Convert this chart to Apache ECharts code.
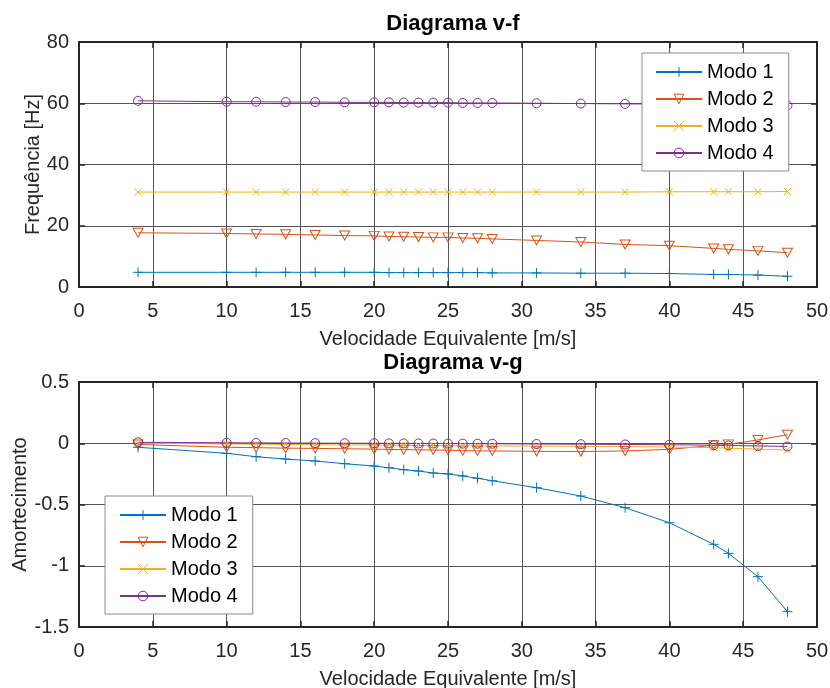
<!DOCTYPE html>
<html>
<head>
<meta charset="utf-8">
<script src="https://cdn.jsdelivr.net/npm/echarts@6/dist/echarts.min.js"></script>
<style>
html,body{margin:0;padding:0;background:#fff;}
#chart{width:830px;height:688px;}
</style>
</head>
<body>
<div id="chart"></div>
<script>
// ---- data ----
const velocidade = [4,10,12,14,16,18,20,21,22,23,24,25,26,27,28,31,34,37,40,43,44,46,48];
const modeNames = ['Modo 1','Modo 2','Modo 3','Modo 4'];
const freq1 = [4.8,4.8,4.8,4.8,4.8,4.8,4.8,4.7,4.7,4.7,4.7,4.7,4.7,4.7,4.6,4.6,4.5,4.5,4.4,4.1,4.1,3.9,3.5];
const freq2 = [17.7,17.5,17.3,17.2,17.0,16.8,16.7,16.5,16.4,16.3,16.2,16.2,16.0,15.9,15.7,15.2,14.7,13.9,13.5,12.6,12.3,11.8,11.2];
const freq3 = [31.0,31.0,31.0,31.0,31.0,31.0,31.0,31.0,31.0,31.0,31.0,31.0,31.0,31.0,31.0,31.0,31.0,31.0,31.1,31.1,31.1,31.1,31.2];
const freq4 = [60.8,60.5,60.5,60.4,60.4,60.3,60.3,60.3,60.2,60.2,60.2,60.2,60.1,60.1,60.1,60.0,59.9,59.8,59.7,59.6,59.5,59.4,59.3];
const damp1 = [-0.033,-0.082,-0.11,-0.129,-0.145,-0.167,-0.186,-0.2,-0.216,-0.227,-0.243,-0.25,-0.267,-0.286,-0.306,-0.363,-0.431,-0.526,-0.649,-0.825,-0.899,-1.089,-1.375];
const damp2 = [-0.01,-0.033,-0.036,-0.04,-0.042,-0.045,-0.048,-0.05,-0.052,-0.054,-0.055,-0.057,-0.06,-0.062,-0.063,-0.066,-0.068,-0.063,-0.05,-0.017,-0.009,0.027,0.07];
const damp3 = [0,-0.005,-0.008,-0.01,-0.012,-0.014,-0.015,-0.016,-0.017,-0.018,-0.019,-0.02,-0.02,-0.021,-0.022,-0.023,-0.025,-0.027,-0.03,-0.036,-0.04,-0.048,-0.055];
const damp4 = [0.008,0.004,0.003,0.002,0.001,0,0,-0.001,-0.001,-0.002,-0.002,-0.003,-0.003,-0.004,-0.004,-0.006,-0.008,-0.01,-0.012,-0.016,-0.018,-0.022,-0.026];
const xTicks = {min:0, max:50, interval:5};
const fTicks = {min:0, max:80, interval:20};
const gTicks = {min:-1.5, max:0.5, interval:0.5};

// ---- style ----
const colors = ['#0072BD','#D95319','#EDB120','#7E2F8E'];
const symbols = [
  'path://M5,0 L5,10 M0,5 L10,5',
  'path://M0,0 L10,0 L5,8.66 Z',
  'path://M0,0 L10,10 M10,0 L0,10',
  'circle'
];
const symSizes = [10,[10,9],7,9];
const FONT = 'Liberation Sans, Arial, sans-serif';
const axisColor = '#262626';
const gridColor = '#555555';

function pairs(ys){ return velocidade.map((v,i)=>[v, ys[i]]); }

function mkSeries(dataArrs, gi){
  return dataArrs.map((arr,k)=>({
    name: modeNames[k], type:'line', xAxisIndex: gi*2, yAxisIndex: gi*2,
    data: pairs(arr), symbol: symbols[k], symbolSize: symSizes[k],
    showSymbol:true, animation:false,
    lineStyle:{color:colors[k], width:1},
    itemStyle:{color:'none', borderColor:colors[k], borderWidth:1},
    emphasis:{disabled:true}
  }));
}

function mainX(gi){
  return {gridIndex:gi, type:'value', min:xTicks.min, max:xTicks.max, interval:xTicks.interval,
    position:'bottom',
    name:'Velocidade Equivalente [m/s]', nameLocation:'middle', nameGap:42, nameMoveOverlap:false,
    nameTextStyle:{fontFamily:FONT, fontSize:20, color:'#262626'},
    axisLine:{show:true, onZero:false, lineStyle:{color:axisColor, width:2}},
    axisTick:{show:true, inside:true, length:6, lineStyle:{color:axisColor, width:1.5}},
    axisLabel:{fontFamily:FONT, fontSize:20, color:'#262626', margin:14},
    splitLine:{show:true, lineStyle:{color:gridColor, width:1}}
  };
}
function topX(gi){
  return {gridIndex:gi, type:'value', min:xTicks.min, max:xTicks.max, interval:xTicks.interval,
    position:'top',
    axisLine:{show:true, onZero:false, lineStyle:{color:axisColor, width:2}},
    axisTick:{show:true, inside:true, length:6, lineStyle:{color:axisColor, width:1.5}},
    axisLabel:{show:false}, splitLine:{show:false}
  };
}
function mainY(gi, t, name, gap){
  return {gridIndex:gi, type:'value', min:t.min, max:t.max, interval:t.interval,
    position:'left',
    name:name, nameLocation:'middle', nameGap:gap, nameRotate:90, nameMoveOverlap:false,
    nameTextStyle:{fontFamily:FONT, fontSize:20, color:'#262626'},
    axisLine:{show:true, onZero:false, lineStyle:{color:axisColor, width:2}},
    axisTick:{show:true, inside:true, length:6, lineStyle:{color:axisColor, width:1.5}},
    axisLabel:{fontFamily:FONT, fontSize:20, color:'#262626', margin:10},
    splitLine:{show:true, lineStyle:{color:gridColor, width:1}}
  };
}
function rightY(gi, t){
  return {gridIndex:gi, type:'value', min:t.min, max:t.max, interval:t.interval,
    position:'right',
    axisLine:{show:true, onZero:false, lineStyle:{color:axisColor, width:2}},
    axisTick:{show:true, inside:true, length:6, lineStyle:{color:axisColor, width:1.5}},
    axisLabel:{show:false}, splitLine:{show:false}
  };
}

const legendData = modeNames.map((n,k)=>({
  name:n, itemStyle:{color:'none', borderColor:colors[k], borderWidth:1}
}));
const legendBase = {
  orient:'vertical', backgroundColor:'#fff', borderColor:'#8c8c8c', borderWidth:1,
  itemWidth:46, itemHeight:12, itemGap:7,
  textStyle:{fontFamily:FONT, fontSize:20, color:'#000', lineHeight:20},
  selectedMode:false, data: legendData
};

const chart = echarts.init(document.getElementById('chart'), null, {renderer:'canvas'});
chart.setOption({
  backgroundColor:'#fff',
  animation:false,
  title:[
    {text:'Diagrama v-f', left:448, top:8, textAlign:'center',
     textStyle:{fontFamily:FONT, fontSize:22, fontWeight:'bold', color:'#000'}},
    {text:'Diagrama v-g', left:448, top:347, textAlign:'center',
     textStyle:{fontFamily:FONT, fontSize:22, fontWeight:'bold', color:'#000'}}
  ],
  grid:[
    {left:79, top:42, width:738, height:245, outerBoundsMode:'none', containLabel:false},
    {left:79, top:382, width:738, height:245, outerBoundsMode:'none', containLabel:false}
  ],
  xAxis:[mainX(0), topX(0), mainX(1), topX(1)],
  yAxis:[mainY(0, fTicks, 'Frequência [Hz]', 36), rightY(0, fTicks),
         mainY(1, gTicks, 'Amortecimento', 49), rightY(1, gTicks)],
  legend:[
    Object.assign({}, legendBase, {left:642, top:53, padding:[9,15,8,13]}),
    Object.assign({}, legendBase, {left:105, top:496, padding:[9,15,8,14]})
  ],
  series:[].concat(mkSeries([freq1,freq2,freq3,freq4],0), mkSeries([damp1,damp2,damp3,damp4],1))
});
</script>
</body>
</html>
